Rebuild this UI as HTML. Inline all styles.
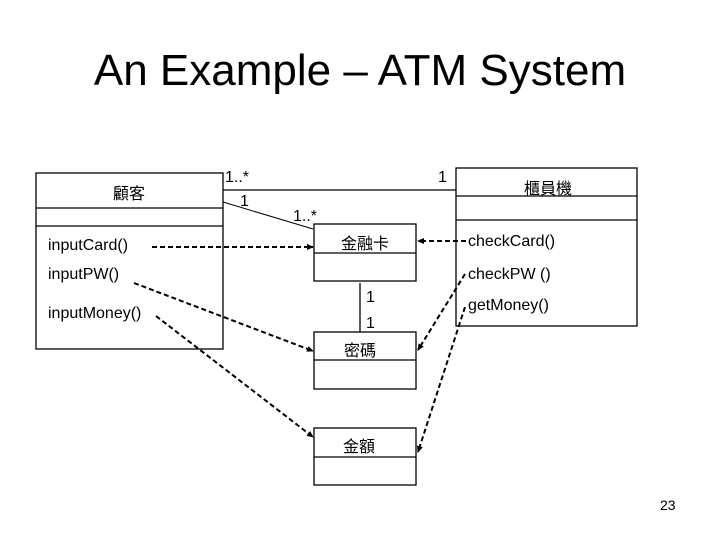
<!DOCTYPE html>
<html><head><meta charset="utf-8"><style>
html,body{margin:0;padding:0;background:#fff;width:720px;height:540px;overflow:hidden}
svg text{font-family:"Liberation Sans","Noto Sans CJK TC",sans-serif;fill:#000}
</style></head><body>
<svg width="720" height="540" viewBox="0 0 720 540" xmlns="http://www.w3.org/2000/svg">
<defs><marker id="a" markerUnits="userSpaceOnUse" markerWidth="7" markerHeight="7" refX="6" refY="3.5" orient="auto"><path d="M0,0.5 L7,3.5 L0,6.5 z" fill="#000"/></marker></defs>
<text x="360" y="85" font-size="44" text-anchor="middle">An Example – ATM System</text>
<g fill="none" stroke="#000" stroke-width="1.3">
<rect x="36" y="173" width="187" height="176"/>
<line x1="36" y1="208" x2="223" y2="208"/><line x1="36" y1="226" x2="223" y2="226"/>
<rect x="456" y="168" width="181" height="158"/>
<line x1="456" y1="196" x2="637" y2="196"/><line x1="456" y1="220" x2="637" y2="220"/>
<rect x="314" y="224" width="102" height="57"/><line x1="314" y1="253" x2="416" y2="253"/>
<rect x="314" y="332" width="102" height="57"/><line x1="314" y1="360" x2="416" y2="360"/>
<rect x="314" y="428" width="102" height="57"/><line x1="314" y1="457" x2="416" y2="457"/>
<line x1="223" y1="190" x2="456" y2="190"/>
<line x1="223" y1="202" x2="313" y2="229" stroke-width="1"/>
<line x1="360" y1="283" x2="360" y2="332"/>
</g>
<g fill="none" stroke="#000" stroke-width="2" stroke-dasharray="5,3" marker-end="url(#a)">
<line x1="152" y1="247" x2="313" y2="247"/>
<line x1="134" y1="283" x2="313" y2="351"/>
<line x1="156" y1="316" x2="313" y2="437"/>
<line x1="466" y1="241" x2="418" y2="241"/>
<line x1="465" y1="274" x2="418" y2="350"/>
<line x1="465" y1="307" x2="418" y2="452"/>
</g>
<g font-size="16">
<text x="129" y="199" text-anchor="middle">顧客</text>
<text x="548" y="194" text-anchor="middle">櫃員機</text>
<text x="365" y="249" text-anchor="middle">金融卡</text>
<text x="360" y="356" text-anchor="middle">密碼</text>
<text x="359" y="452" text-anchor="middle">金額</text>
<text x="48" y="250">inputCard()</text>
<text x="48" y="279">inputPW()</text>
<text x="48" y="318">inputMoney()</text>
<text x="468" y="246">checkCard()</text>
<text x="468" y="279">checkPW ()</text>
<text x="468" y="310">getMoney()</text>
<text x="225" y="182">1..*</text>
<text x="240" y="206">1</text>
<text x="438" y="182">1</text>
<text x="293" y="221">1..*</text>
<text x="366" y="302">1</text>
<text x="366" y="328">1</text>
</g>
<text x="660" y="510" font-size="14">23</text>
</svg>
</body></html>
